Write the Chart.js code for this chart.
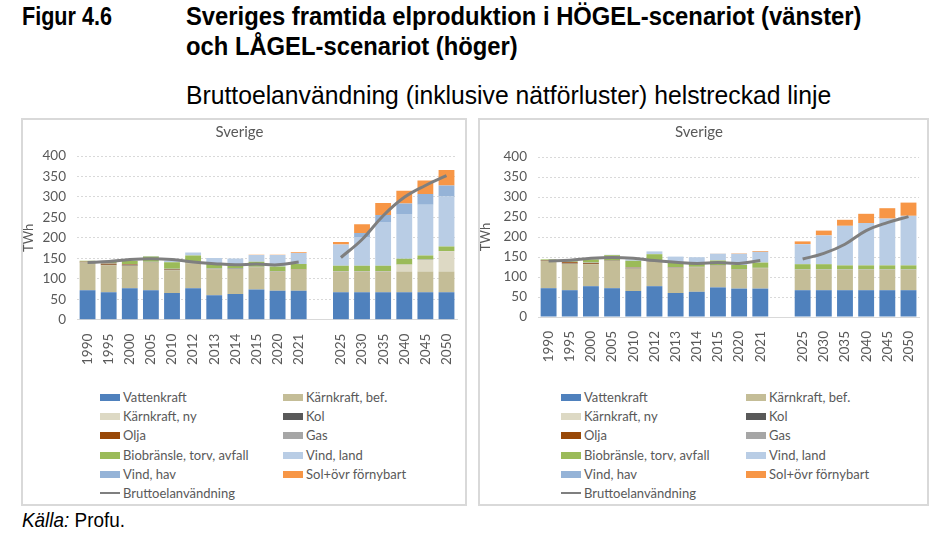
<!DOCTYPE html>
<html>
<head>
<meta charset="utf-8">
<script src="https://cdn.jsdelivr.net/npm/chart.js@4.4.1/dist/chart.umd.min.js"></script>
<style>
  body { margin: 0; width: 942px; height: 544px; background: #fff; position: relative; overflow: hidden; font-family: "Liberation Sans", Arial, sans-serif; color: #000; }
  .hd { position: absolute; font-size: 26px; font-weight: bold; line-height: 30px; transform-origin: 0 0; white-space: nowrap; }
  .sub { position: absolute; left: 186px; top: 80px; font-size: 26px; transform: scaleX(0.95); transform-origin: 0 0; white-space: nowrap; }
  .src { position: absolute; left: 22px; top: 508px; font-size: 21px; transform: scaleX(0.9); transform-origin: 0 0; white-space: nowrap; }
  .panel { position: absolute; top: 118px; height: 388px; border: 2px solid #d9d9d9; box-sizing: border-box; }
  .panel canvas { position: absolute; left: -2px; top: -2px; }
  .legend { position: absolute; font-family: Lato, sans-serif; font-size: 13px; color: #595959; }
  .legend div { position: absolute; white-space: nowrap; line-height: 19px; }
  .legend span { display: inline-block; width: 20px; height: 7px; margin-right: 3px; vertical-align: 1px; }
</style>
</head>
<body>
<div class="hd" style="left:22px;top:1px;transform:scaleX(0.83)">Figur 4.6</div>
<div class="hd" style="left:186px;top:1px;transform:scaleX(0.915)">Sveriges framtida elproduktion i HÖGEL-scenariot (vänster)<br>och LÅGEL-scenariot (höger)</div>
<div class="sub">Bruttoelanvändning (inklusive nätförluster) helstreckad linje</div>

<div class="panel" id="p1" style="left:21px;width:446px"><canvas id="c1"></canvas><div class="legend" id="l1"></div></div>
<div class="panel" id="p2" style="left:478px;width:451px"><canvas id="c2"></canvas><div class="legend" id="l2"></div></div>

<div class="src"><i>Källa:</i> Profu.</div>

<script>
// kategorier (tom kategori = mellanrum mellan historik och scenario)
var histYears = ['1990','1995','2000','2005','2010','2012','2013','2014','2015','2020','2021'];
var futYears = ['2025','2030','2035','2040','2045','2050'];

var seriesNames = ['Vattenkraft','Kärnkraft, bef.','Kärnkraft, ny','Kol','Olja','Gas','Biobränsle, torv, avfall','Vind, land','Vind, hav','Sol+övr förnybart'];
var seriesColors = ['#4f81bd','#c4bd97','#ddd9c4','#595959','#984807','#a6a6a6','#9bbb59','#b9cde5','#95b3d7','#f79646'];
var lineName = 'Bruttoelanvändning';
var yTicks = [0, 50, 100, 150, 200, 250, 300, 350, 400];

// historik, TWh
var histVatten = [72, 67, 77, 72, 65, 77, 60, 63, 74, 71, 71];
var histKarn   = [68, 66, 55, 68, 56, 61, 63, 61, 54, 47, 51];
var histKarnNy = [0, 0, 0, 0, 0, 0, 0, 0, 0, 0, 0];
var histKol    = [0.5, 1, 1, 0.5, 1, 0.5, 0.5, 0.5, 0.5, 0.3, 0.3];
var histOlja   = [1, 3, 2, 0.5, 1, 0.5, 0.5, 0.3, 0.3, 0.2, 0.2];
var histGas    = [0.5, 1, 1, 0.5, 1.5, 1, 1, 0.7, 0.5, 0.5, 0.5];
var histBio    = [2, 4, 8, 13, 16, 17, 12, 10, 12, 11, 13];
var histVindL  = [0, 0, 0.5, 1, 3.5, 7, 14, 14, 17, 28, 27];
var histVindH  = [0, 0, 0, 0, 0, 0, 0, 0, 0, 0, 0];
var histSol    = [0, 0, 0, 0, 0, 0, 0, 0, 0.3, 1, 2];
var histBrutto = [140, 142, 147, 149, 147, 141, 137, 134, 136, 134, 141];

// HÖGEL 2025-2050
var hogVatten = [67, 67, 67, 67, 67, 67];
var hogKarn   = [51, 51, 51, 51, 51, 51];
var hogKarnNy = [0, 0, 0, 16, 28, 49];
var hogKol    = [0, 0, 0, 0, 0, 0];
var hogOlja   = [0, 0, 0, 0, 0, 0];
var hogGas    = [1, 1, 1, 1, 1, 1];
var hogBio    = [13, 13, 13, 14, 10, 11];
var hogVindL  = [52, 70, 107, 109, 124, 122];
var hogVindH  = [0, 10, 17, 26, 26, 27];
var hogSol    = [6, 21, 29, 31, 33, 38];
var hogBrutto = [152, 196, 254, 299, 328, 352];

// LÅGEL 2025-2050
var lagVatten = [67, 67, 67, 67, 67, 67];
var lagKarn   = [51, 51, 51, 51, 51, 51];
var lagKarnNy = [0, 0, 0, 0, 0, 0];
var lagKol    = [0, 0, 0, 0, 0, 0];
var lagOlja   = [0, 0, 0, 0, 0, 0];
var lagGas    = [1, 1, 1, 1, 1, 1];
var lagBio    = [13, 13, 10, 10, 10, 10];
var lagVindL  = [50, 72, 99, 106, 117, 124];
var lagVindH  = [0, 0, 0, 0, 0, 0];
var lagSol    = [7, 12, 15, 23, 26, 33];
var lagBrutto = [145, 159, 182, 216, 236, 251];

var labels = histYears.concat([''], futYears);
function join(h, f) { return h.concat([null], f); }

var histBars = [histVatten, histKarn, histKarnNy, histKol, histOlja, histGas, histBio, histVindL, histVindH, histSol];
var hogBars = [hogVatten, hogKarn, hogKarnNy, hogKol, hogOlja, hogGas, hogBio, hogVindL, hogVindH, hogSol];
var lagBars = [lagVatten, lagKarn, lagKarnNy, lagKol, lagOlja, lagGas, lagBio, lagVindL, lagVindH, lagSol];

Chart.defaults.font.family = 'Lato, sans-serif';
Chart.defaults.color = '#595959';

function makeChart(id, fut, brutto, w, h, plotLeft, plotBottom, titleGap) {
  var datasets = [];
  fut.forEach(function (f, i) {
    datasets.push({
      type: 'bar', label: seriesNames[i], data: join(histBars[i], f),
      backgroundColor: seriesColors[i], stack: 'el', order: 1,
      barPercentage: 0.75, categoryPercentage: 1
    });
  });
  datasets.push({
    type: 'line', label: lineName, data: join(histBrutto, brutto),
    borderColor: '#7f7f7f', borderWidth: 3, pointRadius: 0, tension: 0.4,
    spanGaps: false, stack: 'brutto', order: 0
  });
  var cv = document.getElementById(id);
  cv.width = w; cv.height = h;
  return new Chart(cv, {
    type: 'bar',
    data: { labels: labels, datasets: datasets },
    options: {
      responsive: false, animation: false,
      layout: { padding: { left: 0, right: 11, top: 0, bottom: 0 } },
      plugins: {
        legend: { display: false },
        tooltip: { enabled: false },
        title: { display: true, text: 'Sverige', font: { size: 15, weight: 'normal' }, color: '#595959', padding: { top: 5, bottom: titleGap } }
      },
      scales: {
        x: {
          stacked: true,
          grid: { display: false },
          border: { color: '#d9d9d9' },
          ticks: { autoSkip: false, minRotation: 90, maxRotation: 90, padding: 6, font: { size: 13.5 } },
          afterFit: function (s) { s.height = h - plotBottom; }
        },
        y: {
          stacked: true, min: 0, max: 400,
          afterBuildTicks: function (s) { s.ticks = yTicks.map(function (v) { return { value: v }; }); },
          grid: { color: '#d9d9d9', borderDash: [2, 2], drawTicks: false },
          border: { display: false, dash: [2, 2] },
          ticks: { padding: 11, font: { size: 13.5 } },
          title: { display: true, text: 'TWh', font: { size: 13 }, padding: { top: 0, bottom: 0 } },
          afterFit: function (s) { s.width = plotLeft; }
        }
      }
    }
  });
}

function makeLegend(id, left1, left2) {
  var el = document.getElementById(id);
  var items = seriesNames.map(function (n, i) { return { name: n, color: seriesColors[i], line: false }; });
  items.push({ name: lineName, color: '#7f7f7f', line: true });
  items.forEach(function (it, i) {
    var d = document.createElement('div');
    d.style.left = (i % 2 === 0 ? left1 : left2) + 'px';
    d.style.top = (268 + Math.floor(i / 2) * 19.2) + 'px';
    var sw = '<span style="background:' + it.color + ';' + (it.line ? 'height:2px;vertical-align:4px;' : '') + '"></span>';
    d.innerHTML = sw + it.name;
    el.appendChild(d);
  });
}

makeChart('c1', hogBars, hogBrutto, 448, 262, 56, 201.7, 15);
makeChart('c2', lagBars, lagBrutto, 453, 262, 60, 199, 16);
makeLegend('l1', 77, 260);
makeLegend('l2', 81, 266);
</script>
</body>
</html>
